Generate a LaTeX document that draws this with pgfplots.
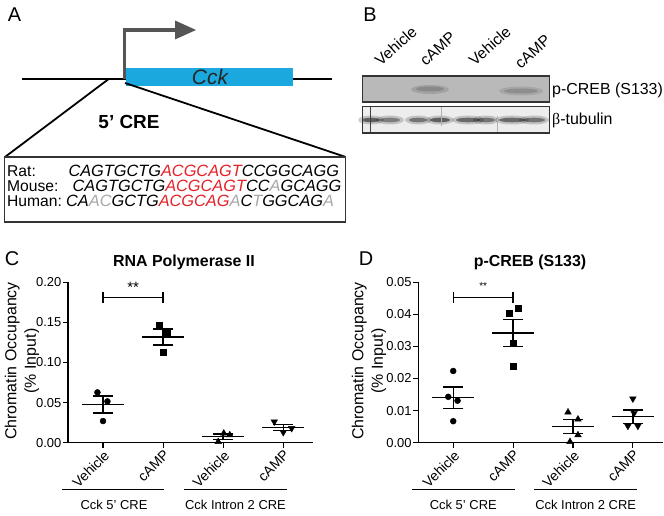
\documentclass[border=0pt]{standalone}
\usepackage{pgfplots}
\pgfplotsset{compat=1.18}
\usepackage{fontspec}
\setmainfont{Liberation Sans}
\newfontfamily\greekserif{Liberation Serif}
\definecolor{cckblue}{HTML}{1BA8DF}
\definecolor{seqred}{HTML}{E3222A}
\definecolor{seqgray}{HTML}{A8A8A8}
\definecolor{arrowgray}{HTML}{555555}
\newcommand{\fs}[1]{\fontsize{#1}{#1}\selectfont}
\pgfplotsset{
  chip/.style={
    scale only axis, height=160.4bp,
    axis x line*=bottom, axis y line*=left,
    axis line style={line width=1.4bp, black},
    xmin=-0.583, xmax=3.5, ymin=0,
    xtick={0,1,2,3}, xticklabels={Vehicle,cAMP,Vehicle,cAMP},
    xticklabel style={rotate=45, anchor=north east, font=\fs{14}, inner sep=1bp},
    yticklabel style={font=\fs{13}, inner sep=1.5bp},
    tick style={line width=1.2bp, black},
    tick align=outside, major tick length=5bp,
    scaled y ticks=false,
    /pgf/number format/fixed, /pgf/number format/fixed zerofill,
    /pgf/number format/precision=2, /pgf/number format/assume math mode=true,
    clip=false,
  },
  meanline/.style={black, line width=1.4bp, mark=none, forget plot},
  sem/.style={black, mark=none, forget plot,
    error bars/.cd, y dir=both, y explicit,
    error bar style={line width=1.4bp, black},
    error mark options={rotate=90, mark size=10bp, line width=1.4bp, black}},
  pts/.style={only marks, black, forget plot},
}
\begin{document}
\begin{tikzpicture}[x=1bp,y=1bp]
\useasboundingbox (0,0) rectangle (664,516);

% ---------- panel letters ----------
\node[font=\fs{20}] at (14.5,501) {A};
\node[font=\fs{20}] at (370,501) {B};
\node[font=\fs{20}] at (12,257) {C};
\node[font=\fs{20}] at (366,257) {D};

% ---------- panel A ----------
\draw[line width=1.8] (22,436.7) -- (332,436.7);
\fill[cckblue] (126,447.7) rectangle (293.3,430);
\node[font=\fs{21}\itshape, text=black!85] at (210,439) {Cck};
\draw[arrowgray, line width=3.3] (124.3,437) -- (124.3,486) -- (177,486);
\fill[arrowgray] (175,495.5) -- (196,486) -- (175,476.5) -- cycle;
\draw[line width=1.8] (108.3,436.7) -- (5,359);
\draw[line width=1.8] (125,433) -- (345.7,359);
\node[font=\fs{19}\bfseries] at (129,394) {5’ CRE};
\draw[line width=1.2, black!80, fill=white] (4.5,359) rectangle (345.7,294);
\node[anchor=base west, font=\fs{15.7}, inner sep=0] at (7,339) {Rat:};
\node[anchor=base west, font=\fs{15.7}, inner sep=0] at (7,324) {Mouse:};
\node[anchor=base west, font=\fs{15.7}, inner sep=0] at (7,309) {Human:};
\node[anchor=base west, font=\fs{16.4}\itshape, inner sep=0] at (68.3,339)
  {CAGTGCTG\textcolor{seqred}{ACGCAGT}CCGGCAGG};
\node[anchor=base west, font=\fs{16.4}\itshape, inner sep=0] at (72.5,324)
  {CAGTGCTG\textcolor{seqred}{ACGCAGT}CC\textcolor{seqgray}{A}GCAGG};
\node[anchor=base west, font=\fs{16.4}\itshape, inner sep=0] at (66,309)
  {CA\textcolor{seqgray}{AC}GCTG\textcolor{seqred}{ACGCAG}\textcolor{seqgray}{A}C\textcolor{seqgray}{T}GGCAG\textcolor{seqgray}{A}};

% ---------- panel B (western blot) ----------
\fill[gray!55] (362.5,414) rectangle (549.5,440);
\fill[black, opacity=0.12] (430,426.5) ellipse [x radius=19, y radius=4.5];
\fill[black, opacity=0.15] (430,427) ellipse [x radius=14, y radius=2.5];
\fill[black, opacity=0.1] (521,425) ellipse [x radius=22, y radius=4.5];
\fill[black, opacity=0.14] (521,425) ellipse [x radius=17, y radius=2.5];
\draw[black!80, line width=1.3] (362.5,414) rectangle (549.5,440);
\fill[gray!14] (362.5,383) rectangle (549.5,409.5);
\foreach \cx/\w/\op in {371/9/0.5, 390/10/0.35, 418/9/0.4, 440/10/0.5, 468/12/0.45, 486/9/0.4, 512/13/0.45, 534/11/0.4}{
  \fill[black, opacity=0.18] (\cx,396) ellipse [x radius=\w+4, y radius=4.5];
  \fill[black, opacity=\op] (\cx,396) ellipse [x radius=\w, y radius=2.3];
}
\draw[black!75, line width=1] (370,384) -- (370,409);
\draw[black!30, line width=0.8] (441,390) -- (441,409);
\draw[black!30, line width=0.8] (497,384) -- (497,400);
\draw[black!80, line width=1.3] (362.5,383) rectangle (549.5,409.5);
\node[rotate=42, anchor=south west, font=\fs{15.5}, inner sep=0] at (381,449) {Vehicle};
\node[rotate=42, anchor=south west, font=\fs{15.5}, inner sep=0] at (426,449) {cAMP};
\node[rotate=42, anchor=south west, font=\fs{15.5}, inner sep=0] at (475,449) {Vehicle};
\node[rotate=42, anchor=south west, font=\fs{15.5}, inner sep=0] at (521,446) {cAMP};
\node[anchor=west, font=\fs{16}, inner sep=0] at (552,426) {p-CREB (S133)};
\node[anchor=west, font=\fs{16}, inner sep=0] at (552,396) {{\greekserif β}-tubulin};

% ---------- panel C ----------
\node[font=\fs{16}\bfseries] at (184,254) {RNA Polymerase II};
\node[rotate=90, align=center, font=\fontsize{16}{19.5}\selectfont] at (22,155) {Chromatin Occupancy\\(\% Input)};
\begin{axis}[chip, at={(68bp,73.3bp)}, anchor=south west, width=245.3bp,
  ymax=0.20, ytick={0,0.05,0.10,0.15,0.20}]
  % Cck 5' CRE vehicle
  \addplot[pts, mark=*, mark size=3bp] coordinates {(-0.093,0.0627) (0.073,0.0515) (0,0.027)};
  \addplot[meanline] coordinates {(-0.347,0.0474) (0.347,0.0474)};
  \addplot[sem] coordinates {(0,0.0474) +- (0,0.0106)};
  % Cck 5' CRE cAMP
  \addplot[pts, mark=square*, mark size=3bp] coordinates {(0.927,0.147) (1.073,0.137) (1,0.113)};
  \addplot[meanline] coordinates {(0.653,0.132) (1.347,0.132)};
  \addplot[sem] coordinates {(1,0.132) +- (0,0.010)};
  % Intron 2 vehicle
  \addplot[pts, mark=triangle*, mark size=3.8bp] coordinates {(1.917,0.0012) (2.01,0.0117) (2.11,0.0096)};
  \addplot[meanline] coordinates {(1.653,0.0075) (2.347,0.0075)};
  \addplot[sem] coordinates {(2,0.0075) +- (0,0.0035)};
  % Intron 2 cAMP
  \addplot[pts, mark=triangle*, mark size=3.8bp, mark options={rotate=180}] coordinates {(2.85,0.0262) (3.0,0.013) (3.14,0.018)};
  \addplot[meanline] coordinates {(2.653,0.019) (3.347,0.019)};
  \addplot[sem] coordinates {(3,0.019) +- (0,0.0038)};
  % significance
  \draw[line width=1.3bp] (axis cs:0,0.1808) -- (axis cs:1,0.1808);
  \draw[line width=1.3bp] (axis cs:0,0.1879) -- (axis cs:0,0.1742);
  \draw[line width=1.3bp] (axis cs:1,0.1879) -- (axis cs:1,0.1742);
  \node[font=\fs{15}] at (axis cs:0.5,0.1935) {**};
\end{axis}
\draw[line width=1] (62,26) -- (164,26);
\draw[line width=1] (184,26) -- (287,26);
\node[font=\fs{13}] at (114,11) {Cck 5' CRE};
\node[font=\fs{13}] at (235.5,11) {Cck Intron 2 CRE};

% ---------- panel D ----------
\node[font=\fs{16}\bfseries] at (530,254) {p-CREB (S133)};
\node[rotate=90, align=center, font=\fontsize{16}{19.5}\selectfont] at (369,155) {Chromatin Occupancy\\(\% Input)};
\begin{axis}[chip, at={(418.3bp,73.3bp)}, anchor=south west, width=244.5bp,
  ymax=0.05, ytick={0,0.01,0.02,0.03,0.04,0.05}]
  \addplot[pts, mark=*, mark size=3bp] coordinates {(0,0.02235) (-0.083,0.0143) (0.072,0.0131) (0,0.0067)};
  \addplot[meanline] coordinates {(-0.347,0.014) (0.347,0.014)};
  \addplot[sem] coordinates {(0,0.014) +- (0,0.0033)};
  \addplot[pts, mark=square*, mark size=3bp] coordinates {(0.928,0.0403) (1.083,0.0418) (1,0.031) (1,0.0237)};
  \addplot[meanline] coordinates {(0.653,0.0342) (1.347,0.0342)};
  \addplot[sem] coordinates {(1,0.0342) +- (0,0.0042)};
  \addplot[pts, mark=triangle*, mark size=3.8bp] coordinates {(1.917,0.0095) (2.083,0.0073) (2.083,0.0024) (1.95,0.0003)};
  \addplot[meanline] coordinates {(1.653,0.005) (2.347,0.005)};
  \addplot[sem] coordinates {(2,0.005) +- (0,0.0022)};
  \addplot[pts, mark=triangle*, mark size=3.8bp, mark options={rotate=180}] coordinates {(3,0.0137) (3.02,0.0092) (2.917,0.0052) (3.083,0.0052)};
  \addplot[meanline] coordinates {(2.653,0.0081) (3.347,0.0081)};
  \addplot[sem] coordinates {(3,0.0081) +- (0,0.0021)};
  \draw[line width=1.3bp] (axis cs:0,0.0452) -- (axis cs:1,0.0452);
  \draw[line width=1.3bp] (axis cs:0,0.0470) -- (axis cs:0,0.0435);
  \draw[line width=1.3bp] (axis cs:1,0.0470) -- (axis cs:1,0.0435);
  \node[font=\fs{10}] at (axis cs:0.5,0.0487) {**};
\end{axis}
\draw[line width=1] (411.7,26) -- (515,26);
\draw[line width=1] (534,26) -- (637.3,26);
\node[font=\fs{13}] at (463.3,11) {Cck 5' CRE};
\node[font=\fs{13}] at (585.7,11) {Cck Intron 2 CRE};
\end{tikzpicture}
\end{document}
